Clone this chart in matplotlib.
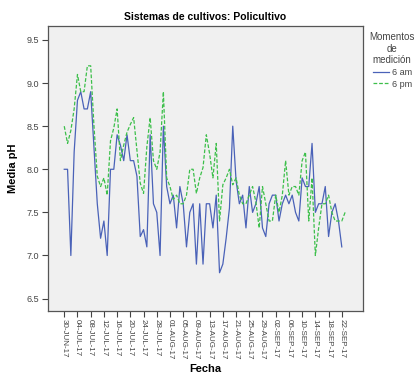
import matplotlib
matplotlib.use("Agg")
import matplotlib.pyplot as plt
import numpy as np
import pandas as pd

plt.rcParams['font.family'] = ['Liberation Sans', 'DejaVu Sans']

# pH medio diario, a partir del 30-JUN-17
ph_6am = [8.0, 8.0, 7.0, 8.2, 8.8, 8.9, 8.7, 8.7, 8.9, 8.25,
          7.6, 7.2, 7.4, 7.0, 8.0, 8.0, 8.4, 8.28, 8.1, 8.4,
          8.1, 8.1, 7.92, 7.22, 7.3, 7.1, 8.4, 7.6, 7.5, 7.0,
          8.5, 7.8, 7.6, 7.7, 7.32, 7.8, 7.6, 7.1, 7.5, 7.6,
          6.9, 7.6, 6.9, 7.6, 7.6, 7.32, 7.7, 6.8, 6.9, 7.2,
          7.55, 8.5, 7.87, 7.6, 7.7, 7.32, 7.8, 7.5, 7.6, 7.8,
          7.32, 7.22, 7.6, 7.7, 7.7, 7.4, 7.6, 7.7, 7.6, 7.7,
          7.5, 7.4, 7.9, 7.8, 7.8, 8.3, 7.5, 7.6, 7.6, 7.8,
          7.22, 7.5, 7.6, 7.4, 7.1, np.nan]
ph_6pm = [8.5, 8.3, 8.45, 8.7, 9.1, 8.9, 8.9, 9.2, 9.2, 8.5,
          7.92, 7.8, 7.9, 7.7, 8.33, 8.48, 8.7, 8.1, 8.28, 8.43,
          8.52, 8.6, 8.22, 7.84, 7.72, 8.26, 8.6, 8.1, 8.0, 8.2,
          8.9, 7.9, 7.8, 7.65, 7.7, 7.6, 7.6, 7.7, 8.0, 8.0,
          7.72, 7.9, 8.02, 8.4, 8.18, 7.9, 8.3, 7.4, 7.82, 7.9,
          8.0, 7.82, 7.9, 7.7, 7.6, 7.6, 7.7, 7.8, 7.62, 7.32,
          7.8, 7.6, 7.4, 7.4, 7.7, 7.5, 7.7, 8.1, 7.7, 7.8,
          7.8, 7.7, 8.1, 8.2, 7.4, 7.9, 7.0, 7.32, 7.6, 7.6,
          7.7, 7.5, 7.4, 7.4, 7.4, 7.5]

fechas = pd.date_range('2017-06-30', periods=len(ph_6pm), freq='D')
tick_fechas = pd.date_range('2017-06-30', '2017-09-22', freq='4D')
tick_labels = ['30-JUN-17', '04-JUL-17', '08-JUL-17', '12-JUL-17', '16-JUL-17',
               '20-JUL-17', '24-JUL-17', '28-JUL-17', '01-AUG-17', '05-AUG-17',
               '09-AUG-17', '13-AUG-17', '17-AUG-17', '21-AUG-17', '25-AUG-17',
               '29-AUG-17', '02-SEP-17', '06-SEP-17', '10-SEP-17', '14-SEP-17',
               '18-SEP-17', '22-SEP-17']
y_ticks = [6.5, 7.0, 7.5, 8.0, 8.5, 9.0, 9.5]

gris = '#444444'

fig = plt.figure(figsize=(4.15, 3.77), dpi=100)
ax = fig.add_axes([0.115, 0.175, 0.76, 0.757])
ax.set_facecolor('#f0f0f0')

ax.plot(fechas, ph_6am, color='#4a62b8', lw=0.9, label='6 am')
ax.plot(fechas, ph_6pm, color='#3cbf4a', lw=0.9, ls=(0, (3, 1.5)), label='6 pm')

ax.set_ylim(6.356, 9.666)
ax.set_xlim(pd.Timestamp('2017-06-25'), pd.Timestamp('2017-09-28 11:00'))
ax.set_yticks(y_ticks)
ax.set_yticklabels(['%.1f' % v for v in y_ticks], fontsize=6.5, color=gris)
ax.set_xticks(tick_fechas)
ax.set_xticklabels(tick_labels, rotation=-90, fontsize=5.8, color=gris)
ax.tick_params(direction='out', length=4, width=0.8, color=gris, pad=2)
for s in ax.spines.values():
    s.set_color('#555555')
    s.set_linewidth(0.9)

ax.set_title('Sistemas de cultivos: Policultivo', fontsize=7.5, fontweight='bold', pad=4)
ax.set_ylabel('Media pH', fontsize=8, fontweight='bold', labelpad=6)
ax.set_xlabel('Fecha', fontsize=8, fontweight='bold', labelpad=3)

leg = ax.legend(title='Momentos\nde\nmedición', loc='upper left',
                bbox_to_anchor=(1.0, 1.0), frameon=False, fontsize=6.5,
                title_fontsize=7, handlelength=1.8, handletextpad=0.3,
                alignment='center', labelspacing=0.3, borderaxespad=0.3)
leg.get_title().set_multialignment('center')
leg.get_title().set_color(gris)
for t in leg.get_texts():
    t.set_color(gris)

fig.savefig('out.png', dpi=100)
